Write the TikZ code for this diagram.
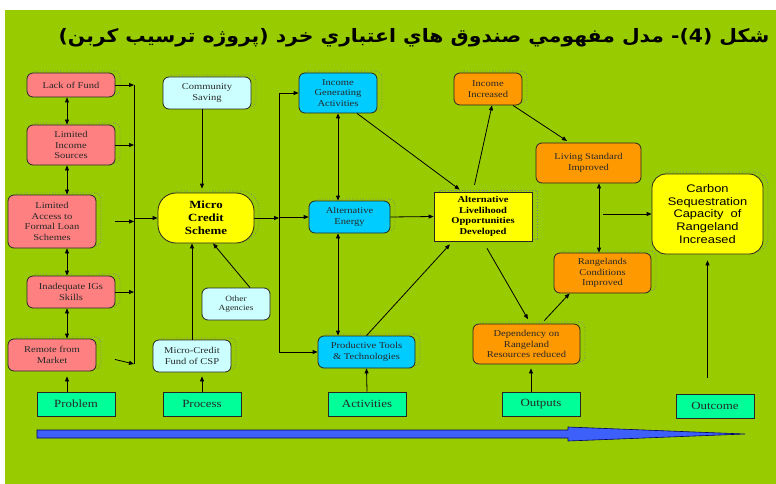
\documentclass[tikz,border=0pt]{standalone}
\usepackage{fontspec}
\setmainfont{Liberation Serif}[FakeStretch=1.17]
\newfontfamily\carbonfont{Liberation Sans}[FakeStretch=1.17]
\newfontfamily\arabicfont[Script=Arabic,FakeStretch=1.1]{DejaVu Sans}
\TeXXeTstate=1
\usetikzlibrary{shadows,calc,arrows.meta}
\definecolor{bg}{RGB}{153,204,0}
\definecolor{pinkc}{RGB}{255,128,128}
\definecolor{lcyan}{RGB}{204,255,255}
\definecolor{cyanc}{RGB}{0,204,255}
\definecolor{yel}{RGB}{255,255,0}
\definecolor{orng}{RGB}{255,153,0}
\definecolor{lab}{RGB}{0,255,153}
\definecolor{arrblue}{RGB}{61,96,250}
\definecolor{txt}{RGB}{40,40,40}
\tikzset{
  box/.style={draw=black!85, line width=0.8pt, rounded corners=6pt, align=center, inner sep=0pt,
    font=\fontsize{9}{10.5}\selectfont, text=txt},
  dotsh/.style={drop shadow={shadow xshift=5pt, shadow yshift=2pt, fill=none, draw=gray, dotted, opacity=1, line width=0.8pt}},
  pinkbox/.style={box, fill=pinkc, dotsh},
  lcbox/.style={box, fill=lcyan},
  cybox/.style={box, fill=cyanc, dotsh},
  orbox/.style={box, fill=orng, dotsh},
  labbox/.style={draw=black!85, line width=0.8pt, fill=lab, align=center, inner sep=0pt,
    font=\fontsize{11}{13}\selectfont, text=txt, minimum width=78pt, minimum height=24pt},
  tip/.tip={Triangle[length=5pt,width=4pt]},
  conn/.style={draw=black, line width=0.8pt, -tip},
  dbl/.style={draw=black, line width=0.8pt, tip-tip},
}
\begin{document}
\begin{tikzpicture}[x=1pt,y=-1pt]
\useasboundingbox (0,0) rectangle (776,484);
\fill[white] (0,0) rectangle (776,484);
\fill[bg] (5,10) rectangle (776,484);

\node[anchor=east, font=\arabicfont\bfseries\fontsize{18.5}{22}\selectfont] (title) at (773,38)
  {\beginR شكل (4)- مدل مفهومي صندوق هاي اعتباري خرد (پروژه ترسيب كربن)\endR};

% Problem column
\node[pinkbox, minimum width=88pt, minimum height=24pt] (lack) at (71,85) {Lack of Fund};
\node[pinkbox, minimum width=88pt, minimum height=40pt] (income) at (71,145) {Limited\\Income\\Sources};
\node[pinkbox, minimum width=88pt, minimum height=53pt] (access) at (52,221.5) {Limited\\Access to\\Formal Loan\\Schemes};
\node[pinkbox, minimum width=88pt, minimum height=32pt] (skills) at (71,292) {Inadequate IGs\\Skills};
\node[pinkbox, minimum width=88pt, minimum height=32pt] (remote) at (52,355) {Remote from\\Market};
\node[labbox] (problem) at (76,404) {Problem};

% Process column
\node[lcbox, dotsh, minimum width=88pt, minimum height=32pt] (community) at (207,93) {Community\\Saving};
\node[box, fill=yel, dotsh, rounded corners=18pt, minimum width=96pt, minimum height=50pt,
  font=\bfseries\fontsize{11}{13}\selectfont, text=black] (mcs) at (206,218) {Micro\\Credit\\Scheme};
\node[lcbox, minimum width=68pt, minimum height=32pt, font=\fontsize{8}{9.5}\selectfont] (agencies) at (236,304) {Other\\Agencies};
\node[lcbox, dotsh, minimum width=78pt, minimum height=32pt] (fund) at (192,356) {Micro-Credit\\Fund of CSP};
\node[labbox] (process) at (202,404) {Process};

% Activities column
\node[cybox, minimum width=78pt, minimum height=40pt] (iga) at (338,93) {Income\\Generating\\Activities};
\node[cybox, minimum width=81pt, minimum height=32pt] (ae) at (349.5,217) {Alternative\\Energy};
\node[cybox, minimum width=97pt, minimum height=32pt] (pt) at (366.5,352) {Productive Tools\\\& Technologies};
\node[labbox] (activities) at (367,404) {Activities};

% Outputs
\node[box, fill=yel, dotsh, rounded corners=0pt, minimum width=98pt, minimum height=49pt,
  font=\bfseries\fontsize{9}{10.5}\selectfont, text=black] (alod) at (483,216.5)
  {Alternative\\Livelihood\\Opportunities\\Developed};
\node[orbox, minimum width=68pt, minimum height=32pt] (inc) at (488,89) {Income\\Increased};
\node[box, fill=orng, minimum width=105pt, minimum height=40pt] (living) at (588.5,163) {Living Standard\\Improved};
\node[orbox, minimum width=97pt, minimum height=40pt] (range) at (602.5,273) {Rangelands\\Conditions\\Improved};
\node[orbox, minimum width=107pt, minimum height=40pt] (dep) at (526.5,344) {Dependency on\\Rangeland\\Resources reduced};
\node[labbox] (outputs) at (541,404) {Outputs};

% Outcome
\node[box, fill=yel, dotsh, rounded corners=14pt, minimum width=111pt, minimum height=80pt,
  font=\carbonfont\fontsize{11}{12.8}\selectfont, text=black] (carbon) at (707.5,214)
  {Carbon\\Sequestration\\Capacity~ of\\Rangeland\\Increased};
\node[labbox] (outcome) at (715,406) {Outcome};

% helper coordinates
\coordinate (colx) at (67,0);
\coordinate (b1t) at (134,85);
\coordinate (b1b) at (134,364);
\coordinate (b2t) at (279,93);
\coordinate (b2b) at (279,352);
\coordinate (vx) at (338,0);
\coordinate (lx) at (599,0);
\coordinate (rx) at (603,0);

% left column links
\draw[dbl] (lack.south -| colx) -- (income.north -| colx);
\draw[dbl] (income.south -| colx) -- (access.north -| colx);
\draw[dbl] (access.south -| colx) -- (skills.north -| colx);
\draw[dbl] (skills.south -| colx) -- (remote.north -| colx);
\draw[conn, shorten >=5pt] (problem.north -| colx) -- (remote.south -| colx);

% bus 1
\draw[line width=0.9pt] (b1t) -- (b1b);
\draw[conn] (lack.east) -- (lack.east -| b1t);
\draw[conn] (income.east) -- (income.east -| b1t);
\draw[conn, shorten <=19pt] (access.east) -- (access.east -| b1t);
\draw[conn] (skills.east) -- (skills.east -| b1t);
\draw[conn, shorten <=19pt] (remote.east) -- (b1b);
\draw[conn] (mcs.west -| b1t) -- (mcs.west);

% process links
\draw[conn, shorten >=4pt] ($(community.south)+(-5,0)$) -- ($(mcs.north)+(-4,0)$);
\draw[conn] (fund.north) -- (fund.north |- mcs.south);
\draw[conn] ($(agencies.north)+(14,0)$) -- ($(mcs.south)+(7,0)$);
\draw[conn, shorten >=4pt] (process.north) -- (process.north |- fund.south);

% bus 2
\draw[line width=0.9pt] (b2t) -- (b2b);
\draw[conn] (mcs.east) -- (mcs.east -| b2t);
\draw[conn] (iga.west -| b2t) -- (iga.west);
\draw[conn] (ae.west -| b2t) -- (ae.west);
\draw[conn] (b2b) -- (pt.west);

% activities links
\draw[dbl] (iga.south -| vx) -- (ae.north -| vx);
\draw[dbl] (ae.south -| vx) -- (pt.north -| vx);
\draw[conn] (activities.north) -- (pt.south);
\draw[conn] ($(iga.south)+(19,0)$) -- ($(alod.north west)+(26,-2)$);
\draw[conn] (ae.east) -- (alod.west);
\draw[conn, shorten >=4pt] (pt.north) -- ($(alod.south west)+(19,0)$);

% outputs links
\draw[conn, shorten <=7pt] ($(alod.north)+(-10,0)$) -- ($(inc.south)+(4,0)$);
\draw[conn, shorten >=3pt] ($(inc.south)+(25,0)$) -- ($(living.north)+(-19,0)$);
\draw[dbl] (living.south -| lx) -- (range.north -| lx);
\draw[conn, shorten <=8pt, shorten >=5pt] (alod.south) -- ($(dep.north)+(4,0)$);
\draw[conn, shorten <=4pt] ($(dep.north)+(15,0)$) -- ($(range.south west)+(16,0)$);
\draw[conn, shorten >=4pt] ($(outputs.north)+(-10,0)$) -- ($(dep.south)+(4.5,0)$);
\draw[conn] (carbon.west -| rx) -- (carbon.west);
\draw[conn, shorten <=16pt, shorten >=6pt] (carbon.south |- outcome.north) -- (carbon.south);

% timeline arrow
\fill[arrblue, draw=blue!40!black, line width=0.6pt]
  (37,430) -- (568,430) -- (568,427) -- (745,434) -- (568,441) -- (568,438) -- (37,438) -- cycle;
\end{tikzpicture}
\end{document}
